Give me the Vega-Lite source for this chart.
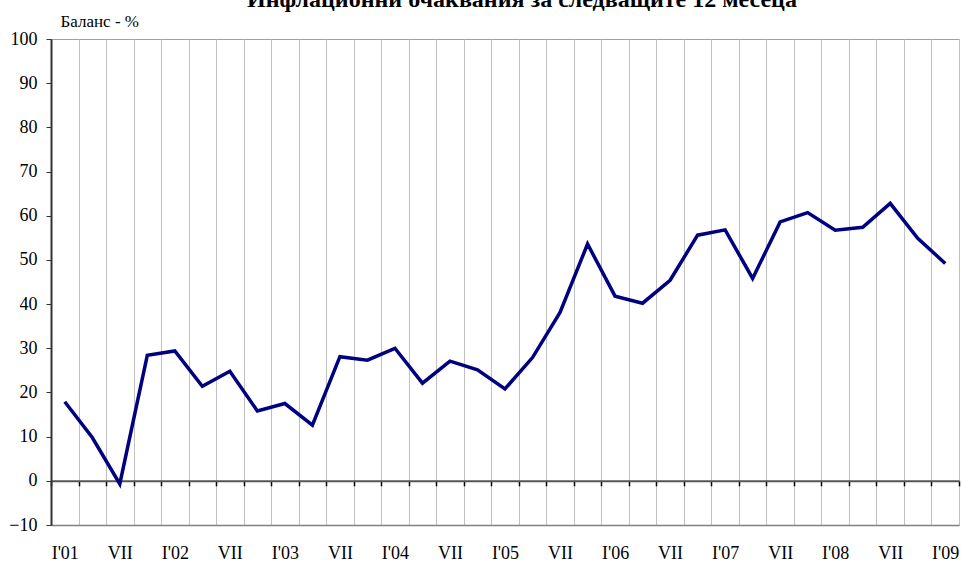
{
  "$schema": "https://vega.github.io/schema/vega-lite/v6.json",
  "width": 908,
  "height": 486,
  "autosize": {"type": "none"},
  "padding": {"left": 51, "top": 39, "right": 3, "bottom": 37},
  "background": "white",
  "config": {"view": {"stroke": "#a0a0a0", "strokeWidth": 1}, "font": "Liberation Serif"},
  "title": {"text": "Инфлационни очаквания за следващите 12 месеца", "font": "Liberation Serif", "fontSize": 24, "fontWeight": "bold", "color": "black", "anchor": "middle", "dx": 17, "offset": 0},
  "data": {"values": [
    {"period": "2001 Q1", "value": 17.9},
    {"period": "2001 Q2", "value": 9.8},
    {"period": "2001 Q3", "value": -0.7},
    {"period": "2001 Q4", "value": 28.4},
    {"period": "2002 Q1", "value": 29.4},
    {"period": "2002 Q2", "value": 21.4},
    {"period": "2002 Q3", "value": 24.8},
    {"period": "2002 Q4", "value": 15.8},
    {"period": "2003 Q1", "value": 17.5},
    {"period": "2003 Q2", "value": 12.6},
    {"period": "2003 Q3", "value": 28.1},
    {"period": "2003 Q4", "value": 27.3},
    {"period": "2004 Q1", "value": 30.0},
    {"period": "2004 Q2", "value": 22.1},
    {"period": "2004 Q3", "value": 27.1},
    {"period": "2004 Q4", "value": 25.1},
    {"period": "2005 Q1", "value": 20.8},
    {"period": "2005 Q2", "value": 27.9},
    {"period": "2005 Q3", "value": 38.1},
    {"period": "2005 Q4", "value": 53.6},
    {"period": "2006 Q1", "value": 41.8},
    {"period": "2006 Q2", "value": 40.2},
    {"period": "2006 Q3", "value": 45.4},
    {"period": "2006 Q4", "value": 55.6},
    {"period": "2007 Q1", "value": 56.8},
    {"period": "2007 Q2", "value": 45.8},
    {"period": "2007 Q3", "value": 58.6},
    {"period": "2007 Q4", "value": 60.7},
    {"period": "2008 Q1", "value": 56.7},
    {"period": "2008 Q2", "value": 57.4},
    {"period": "2008 Q3", "value": 62.8},
    {"period": "2008 Q4", "value": 54.9},
    {"period": "2009 Q1", "value": 49.2}
  ]},
  "resolve": {"axis": {"x": "independent"}},
  "layer": [
    {
      "mark": {"type": "point", "opacity": 0},
      "encoding": {
        "x": {"field": "period", "type": "ordinal", "sort": null,
          "scale": {"type": "band", "paddingInner": 0, "paddingOuter": 0},
          "axis": {"orient": "bottom", "title": null, "grid": true, "gridColor": "#c0c0c0", "gridWidth": 1, "tickBand": "extent", "ticks": false, "domain": true, "domainColor": "#808080", "domainWidth": 1.5, "labelAngle": 0, "labelFont": "Liberation Serif", "labelFontSize": 18, "labelColor": "black", "labelPadding": 19, "labelExpr": "substring(datum.value,5)=='Q1' ? \"I'\" + substring(datum.value,2,4) : (substring(datum.value,5)=='Q3' ? 'VII' : '')"}},
        "y": {"field": "value", "type": "quantitative",
          "scale": {"domain": [-10, 100], "nice": false, "zero": false},
          "axis": {"title": "Баланс - %", "titleAngle": 0, "titleAlign": "left", "titleBaseline": "alphabetic", "titleX": 9, "titleY": -13, "titleFont": "Liberation Serif", "titleFontSize": 17, "titleFontWeight": "normal", "titleColor": "black", "values": [-10, 0, 10, 20, 30, 40, 50, 60, 70, 80, 90, 100], "grid": false, "labelFont": "Liberation Serif", "labelFontSize": 18, "labelColor": "black", "labelPadding": 9, "tickSize": 5, "tickColor": "#333333", "domainColor": "#333333", "domainWidth": 2}}
      }
    },
    {
      "mark": {"type": "point", "opacity": 0},
      "encoding": {
        "x": {"field": "period", "type": "ordinal", "sort": null,
          "axis": {"orient": "bottom", "offset": -44.2, "title": null, "grid": false, "tickBand": "extent", "ticks": true, "tickSize": 5, "tickColor": "black", "tickWidth": 1.5, "domain": true, "domainColor": "#555555", "domainWidth": 2, "labels": false}},
        "y": {"field": "value", "type": "quantitative"}
      }
    },
    {
      "mark": {"type": "line", "color": "#000080", "strokeWidth": 3.5},
      "encoding": {
        "x": {"field": "period", "type": "ordinal", "sort": null, "axis": null},
        "y": {"field": "value", "type": "quantitative"}
      }
    }
  ]
}
